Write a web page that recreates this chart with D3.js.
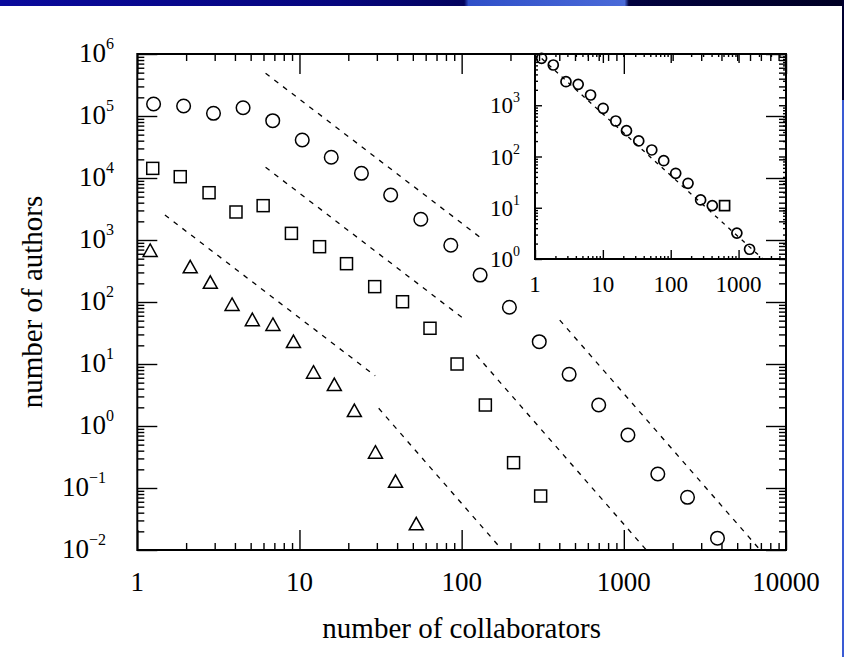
<!DOCTYPE html>
<html>
<head>
<meta charset="utf-8">
<script src="https://cdn.jsdelivr.net/npm/d3@7"></script>
<style>
  html, body { margin: 0; padding: 0; background: #fff; }
  svg { display: block; }
  text { font-family: "Liberation Serif", "Times New Roman", serif; fill: #000; }
</style>
</head>
<body>
<svg id="chart" width="844" height="657"></svg>
<script>
// Collaborators per author, three data sets (log-binned)
const circleX = [1.26, 1.93, 2.95, 4.49, 6.84, 10.4, 15.7, 24.1, 36.5, 56, 85.7, 130, 197, 301, 460, 700, 1060, 1620, 2470, 3780];
const circleY = [156000, 145000, 110600, 136000, 84000, 41000, 21600, 11900, 5320, 2160, 822, 272, 82.2, 22.9, 6.82, 2.18, 0.716, 0.168, 0.0708, 0.0155];

const squareX = [1.245, 1.84, 2.77, 4.06, 5.97, 8.92, 13.3, 19.5, 29.1, 43.2, 63.8, 93.7, 140, 209, 307];
const squareY = [14300, 10500, 5790, 2830, 3580, 1280, 780, 415, 177, 101, 37.7, 10.0, 2.18, 0.256, 0.0743];

const triX = [1.2, 2.12, 2.82, 3.84, 5.12, 6.86, 9.18, 12.2, 16.4, 21.8, 29.4, 39.1, 52.5];
const triY = [665, 363, 204, 89.5, 51, 42.6, 22.6, 7.24, 4.58, 1.74, 0.371, 0.126, 0.026];

// Power-law guide lines: start x, start y, end x, exponent
const guideX0 = [6.18, 6.18, 1.48, 30.8, 123, 402.6];
const guideY0 = [489000, 14900, 2530, 1.93, 14, 51];
const guideX1 = [131.7, 100.9, 29.3, 175, 1374, 6900];
const guideExp = [-2, -2, -2, -3, -3, -3];

// Inset distribution
const insetX = [1.25, 1.86, 2.86, 4.33, 6.59, 10.1, 15.5, 22.3, 33.8, 52.6, 78.9, 118.5, 180, 276, 410, 944, 1452];
const insetY = [8240, 6100, 2880, 2560, 1585, 872, 493, 319, 201, 134, 82.8, 47, 30, 14.2, 11, 3.2, 1.55];
const insetSqX = [622];
const insetSqY = [11];
// Inset fit: y = A * x^k
const insetFitA = [10715];
const insetFitK = [-1.2];

// Tick labels
const xTickLabels = ["1", "10", "100", "1000", "10000"];
const yExponents = [-2, -1, 0, 1, 2, 3, 4, 5, 6];
const insetXLabels = ["1", "10", "100", "1000"];
const insetYExponents = [0, 1, 2, 3];

const xTitle = "number of collaborators";
const yTitle = "number of authors";

const svg = d3.select("#chart");

// slide decoration: top band and right edge
const defs = svg.append("defs");
const grad = defs.append("linearGradient").attr("id", "band").attr("x1", "0").attr("x2", "1");
[["0%", "#0a0a9c"], ["40%", "#06067e"], ["55%", "#03035e"], ["55.5%", "#2f4fc8"],
 ["74%", "#4a6ad8"], ["74.5%", "#020240"], ["100%", "#000024"]]
  .forEach(([o, c]) => grad.append("stop").attr("offset", o).attr("stop-color", c));
svg.append("rect").attr("x", 0).attr("y", 0).attr("width", 844).attr("height", 6).attr("fill", "url(#band)");
svg.append("rect").attr("x", 842).attr("y", 0).attr("width", 2).attr("height", 100).attr("fill", "#000030");
svg.append("rect").attr("x", 842).attr("y", 100).attr("width", 2).attr("height", 557).attr("fill", "#3a5bd4");

// ---------- main plot ----------
const x = d3.scaleLog().domain([1, 1e4]).range([137.3, 786]);
const y = d3.scaleLog().domain([1e-2, 1e6]).range([550, 54]);

function minors(lo, hi) {
  const out = [];
  for (let d = lo; d < hi; d *= 10) for (let k = 2; k <= 9; k++) out.push(d * k);
  return out.filter(v => v < hi);
}
const xMajor = [1, 10, 100, 1000, 10000];

function tickAxis(g, axisFn, scale, values, size) {
  g.call(axisFn(scale).tickValues(values).tickSize(size).tickFormat(""))
   .call(s => s.select(".domain").remove())
   .call(s => s.selectAll(".tick line").attr("stroke", "#000").attr("stroke-width", 1.4));
  g.selectAll("text").remove();
}

function drawAxes(xs, ys, box, majLen, minLen, xMin, xMax, yMin, yMax) {
  const xm = minors(xMin, xMax), ym = minors(yMin, yMax);
  const xM = xMajor.filter(v => v >= xMin && v <= xMax);
  const yM = [1e-2, 1e-1, 1, 10, 100, 1000, 1e4, 1e5, 1e6].filter(v => v >= yMin && v <= yMax);
  const put = (tr, fn, sc, vals, len) =>
    svg.append("g").attr("transform", tr).call(g => tickAxis(g, fn, sc, vals, len));
  put(`translate(0,${box.b})`, d3.axisBottom, xs, xM, -majLen.x);
  put(`translate(0,${box.b})`, d3.axisBottom, xs, xm, -minLen);
  put(`translate(0,${box.t})`, d3.axisTop, xs, xM, -majLen.x);
  put(`translate(0,${box.t})`, d3.axisTop, xs, xm, -minLen);
  put(`translate(${box.l},0)`, d3.axisLeft, ys, yM, -majLen.y);
  put(`translate(${box.l},0)`, d3.axisLeft, ys, ym, -minLen);
  put(`translate(${box.r},0)`, d3.axisRight, ys, yM, -majLen.y);
  put(`translate(${box.r},0)`, d3.axisRight, ys, ym, -minLen);
  svg.append("rect").attr("x", box.l).attr("y", box.t)
    .attr("width", box.r - box.l).attr("height", box.b - box.t)
    .attr("fill", "none").attr("stroke", "#000").attr("stroke-width", 2);
}

const mainBox = { l: x.range()[0], r: x.range()[1], t: y.range()[1], b: y.range()[0] };
drawAxes(x, y, mainBox, { x: 20, y: 20 }, 7, 1, 1e4, 1e-2, 1e6);

// x tick labels
svg.append("g").selectAll("text").data(xMajor).join("text")
  .attr("x", d => x(d)).attr("y", 591)
  .attr("text-anchor", "middle").attr("font-size", 27)
  .text((d, i) => xTickLabels[i]);

// y tick labels with exponent
const yl = svg.append("g").selectAll("text").data(yExponents).join("text")
  .attr("x", e => e < 0 ? 106 : 114)
  .attr("y", e => y(Math.pow(10, e)) + 8)
  .attr("text-anchor", "end").attr("font-size", 27);
yl.append("tspan").text("10");
yl.append("tspan").attr("font-size", 16).attr("dy", -13).text(e => e < 0 ? "\u2212" + (-e) : String(e));

// axis titles
svg.append("text").attr("x", (mainBox.l + mainBox.r) / 2).attr("y", 638)
  .attr("text-anchor", "middle").attr("font-size", 29).text(xTitle);
svg.append("text").attr("transform", `translate(42,${(mainBox.t + mainBox.b) / 2}) rotate(-90)`)
  .attr("text-anchor", "middle").attr("font-size", 29).text(yTitle);

// guide lines
const line = d3.line().x(d => x(d[0])).y(d => y(d[1]));
svg.append("g").selectAll("path").data(guideX0.map((x0, i) => [
    [x0, guideY0[i]],
    [guideX1[i], guideY0[i] * Math.pow(guideX1[i] / x0, guideExp[i])]
  ])).join("path")
  .attr("d", line).attr("fill", "none").attr("stroke", "#000")
  .attr("stroke-width", 1.3).attr("stroke-dasharray", "5,6");

// markers
const mk = svg.append("g").attr("fill", "none").attr("stroke", "#000").attr("stroke-width", 1.5);
mk.selectAll("circle.c").data(circleX.map((v, i) => [v, circleY[i]])).join("circle")
  .attr("class", "c").attr("cx", d => x(d[0])).attr("cy", d => y(d[1])).attr("r", 6.8);
mk.selectAll("rect.s").data(squareX.map((v, i) => [v, squareY[i]])).join("rect")
  .attr("class", "s").attr("x", d => x(d[0]) - 6).attr("y", d => y(d[1]) - 6)
  .attr("width", 12).attr("height", 12);
mk.selectAll("path.t").data(triX.map((v, i) => [v, triY[i]])).join("path")
  .attr("class", "t")
  .attr("d", d => { const cx = x(d[0]), cy = y(d[1]);
    return `M${cx},${cy - 7}L${cx + 7},${cy + 5.5}L${cx - 7},${cy + 5.5}Z`; });

// ---------- inset ----------
const xi = d3.scaleLog().domain([1, 5000]).range([535, 786]);
const yi = d3.scaleLog().domain([1, 1e4]).range([259, 54]);
const insetBox = { l: 535, r: 786, t: 54, b: 259 };
drawAxes(xi, yi, insetBox, { x: 9, y: 7 }, 3, 1, 5000, 1, 1e4);

svg.append("g").selectAll("text").data([1, 10, 100, 1000]).join("text")
  .attr("x", d => xi(d)).attr("y", 292)
  .attr("text-anchor", "middle").attr("font-size", 23)
  .text((d, i) => insetXLabels[i]);
const yli = svg.append("g").selectAll("text").data(insetYExponents).join("text")
  .attr("x", 520).attr("y", e => yi(Math.pow(10, e)) + 8)
  .attr("text-anchor", "end").attr("font-size", 23);
yli.append("tspan").text("10");
yli.append("tspan").attr("font-size", 14).attr("dy", -11).text(e => String(e));

defs.append("clipPath").attr("id", "insetClip").append("rect")
  .attr("x", insetBox.l).attr("y", insetBox.t)
  .attr("width", insetBox.r - insetBox.l).attr("height", insetBox.b - insetBox.t);
const lineI = d3.line().x(d => xi(d[0])).y(d => yi(d[1]));
svg.append("path")
  .datum([1, 5000].map(v => [v, insetFitA[0] * Math.pow(v, insetFitK[0])]))
  .attr("d", lineI).attr("clip-path", "url(#insetClip)")
  .attr("fill", "none").attr("stroke", "#000").attr("stroke-width", 1.3)
  .attr("stroke-dasharray", "4,5");

const mki = svg.append("g").attr("fill", "none").attr("stroke", "#000").attr("stroke-width", 1.7);
mki.selectAll("circle").data(insetX.map((v, i) => [v, insetY[i]])).join("circle")
  .attr("cx", d => xi(d[0])).attr("cy", d => yi(d[1])).attr("r", 5);
mki.selectAll("rect").data(insetSqX.map((v, i) => [v, insetSqY[i]])).join("rect")
  .attr("x", d => xi(d[0]) - 5).attr("y", d => yi(d[1]) - 5)
  .attr("width", 10).attr("height", 10);
</script>
</body>
</html>
